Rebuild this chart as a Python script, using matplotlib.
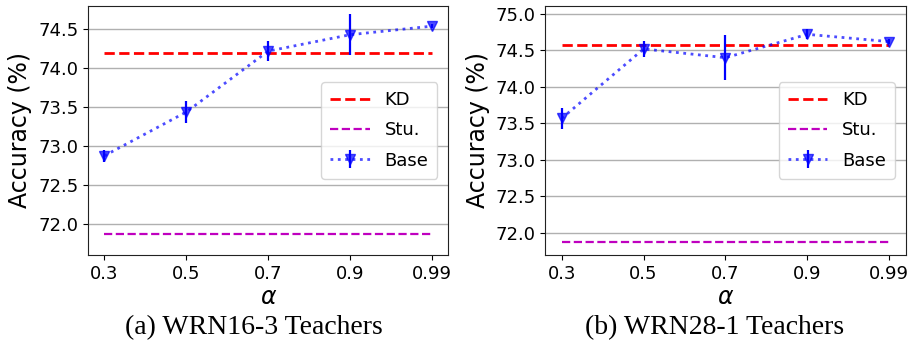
import matplotlib.pyplot as plt

alphas = ['0.3', '0.5', '0.7', '0.9', '0.99']

# (a) WRN16-3 teachers
base_a = [72.88, 73.44, 74.22, 74.43, 74.54]
err_a = [0.08, 0.14, 0.13, 0.26, 0.03]
kd_a = 74.20
stu_a = 71.88

# (b) WRN28-1 teachers
base_b = [73.57, 74.52, 74.40, 74.72, 74.62]
err_b = [0.14, 0.11, 0.31, 0.07, 0.03]
kd_b = 74.58
stu_b = 71.88

fig = plt.figure(figsize=(9.12, 3.44), dpi=100)
ax1 = fig.add_axes([0.0965, 0.259, 0.395, 0.724])
ax2 = fig.add_axes([0.598, 0.259, 0.395, 0.724])

panels = [
    (ax1, base_a, err_a, kd_a, stu_a, (71.61, 74.80), '(a) WRN16-3 Teachers', 254),
    (ax2, base_b, err_b, kd_b, stu_b, (71.70, 75.11), '(b) WRN28-1 Teachers', 715),
]

x = list(range(len(alphas)))
for ax, base, err, kd, stu, ylim, title, tx in panels:
    ax.plot(x, [kd] * len(x), 'r--', lw=2, label='KD')
    ax.plot(x, [stu] * len(x), 'm--', lw=1.6, label='Stu.')
    ax.errorbar(x, base, yerr=err, color='blue', ls=':', lw=2, marker='v',
                ms=7.5, elinewidth=1.6, capsize=0, label='Base')
    # make the dotted line a bit lighter like the original
    ax.lines[-1].set_alpha(0.7)
    ax.set_xticks(x)
    ax.set_xticklabels(alphas)
    ax.set_ylim(*ylim)
    ax.set_yticks([72.0, 72.5, 73.0, 73.5, 74.0, 74.5] + ([75.0] if ylim[1] > 75 else []))
    ax.tick_params(labelsize=13)
    ax.yaxis.grid(True, color='#b0b0b0', lw=1)
    ax.set_axisbelow(True)
    ax.set_ylabel('Accuracy (%)', fontsize=17)
    ax.set_xlabel(r'$\alpha$', fontsize=17, labelpad=2)
    ax.legend(loc='center right', fontsize=13, handlelength=2.2,
              borderaxespad=0.6, labelspacing=0.68, borderpad=0.5)
    for s in ax.spines.values():
        s.set_color('#222222')
    fig.text(tx / 912, 0.012, title, ha='center', va='bottom',
             fontsize=20, family='Liberation Serif')

fig.savefig('out.png', dpi=100)
